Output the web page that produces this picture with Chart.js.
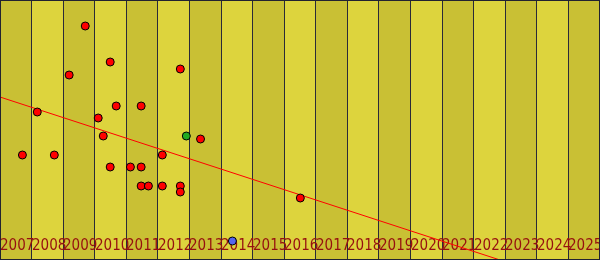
<!DOCTYPE html>
<html>
<head>
<meta charset="utf-8">
<script src="https://cdn.jsdelivr.net/npm/chart.js@4"></script>
<style>
  html, body { margin: 0; padding: 0; background: #ffffff; }
  #wrap { width: 600px; height: 260px; }
</style>
</head>
<body>
<div id="wrap"><canvas id="c" width="600" height="260"></canvas></div>
<script>
// ---- data ----
const yearTicks = ["2007","2008","2009","2010","2011","2012","2013","2014","2015","2016","2017","2018","2019","2020","2021","2022","2023","2024","2025"];

const redYears  = [2009.70, 2010.49, 2009.19, 2012.71, 2008.18, 2010.68, 2011.47, 2010.11, 2010.27, 2013.35, 2007.71, 2008.72, 2012.14, 2010.49, 2011.13, 2011.47, 2011.47, 2011.70, 2012.14, 2012.71, 2012.71, 2016.51];
const redValues = [23.4,    19.8,    18.5,    19.1,    14.8,    15.4,    15.4,    14.2,    12.4,    12.1,    10.5,    10.5,    10.5,    9.3,     9.3,     9.3,     7.4,     7.4,     7.4,     7.4,     6.8,     6.2];

const greenYears  = [2012.90];
const greenValues = [12.4];

const blueYears  = [2014.36];
const blueValues = [1.9];

const trendYears  = [2007, 2026];
const trendValues = [16.3, -3.26];

// ---- build datasets ----
const toPts = (xs, ys) => xs.map((x, i) => ({ x: x, y: ys[i] }));

const bandPlugin = {
  id: 'bands',
  beforeDraw(chart) {
    const { ctx, chartArea, scales } = chart;
    const xs = scales.x;
    ctx.save();
    for (let i = 0; i < yearTicks.length; i++) {
      const y0 = Number(yearTicks[i]);
      const a = xs.getPixelForValue(y0);
      const b = xs.getPixelForValue(y0 + 1);
      ctx.fillStyle = (i % 2 === 0) ? '#c9c034' : '#ddd43d';
      ctx.fillRect(a, chartArea.top, b - a, chartArea.bottom - chartArea.top);
    }
    ctx.restore();
  },
  beforeDatasetsDraw(chart) {
    const { ctx, chartArea, scales } = chart;
    const xs = scales.x;
    ctx.save();
    ctx.font = '15px "DejaVu Sans Condensed", "DejaVu Sans", sans-serif';
    try { ctx.fontStretch = 'condensed'; } catch (e) {}
    ctx.fillStyle = '#961010';
    ctx.textAlign = 'left';
    ctx.textBaseline = 'alphabetic';
    for (let i = 0; i < yearTicks.length; i++) {
      const px = xs.getPixelForValue(Number(yearTicks[i]));
      ctx.fillText(yearTicks[i], Math.round(px), chartArea.bottom - 10);
    }
    ctx.restore();
  },
  afterDraw(chart) {
    const { ctx } = chart;
    ctx.save();
    ctx.strokeStyle = '#222230';
    ctx.lineWidth = 1;
    ctx.strokeRect(0.5, 0.5, chart.width - 1, chart.height - 1);
    ctx.restore();
  }
};

new Chart(document.getElementById('c'), {
  type: 'scatter',
  data: {
    datasets: [
      {
        type: 'line',
        data: toPts(trendYears, trendValues),
        borderColor: '#ff0000',
        borderWidth: 1,
        pointRadius: 0,
        fill: false,
        order: 3
      },
      {
        data: toPts(redYears, redValues),
        backgroundColor: '#ff0000',
        borderColor: '#000000',
        borderWidth: 1,
        pointRadius: 4,
        order: 2
      },
      {
        data: toPts(greenYears, greenValues),
        backgroundColor: '#22aa22',
        borderColor: '#000000',
        borderWidth: 1,
        pointRadius: 4,
        order: 1
      },
      {
        data: toPts(blueYears, blueValues),
        backgroundColor: '#5566ee',
        borderColor: '#000000',
        borderWidth: 1,
        pointRadius: 4,
        order: 1
      }
    ]
  },
  options: {
    responsive: false,
    animation: false,
    devicePixelRatio: 1,
    layout: { padding: 0, autoPadding: false },
    plugins: { legend: { display: false }, tooltip: { enabled: false } },
    scales: {
      x: {
        type: 'linear',
        min: 2007,
        max: 2026,
        display: true,
        ticks: { display: false, stepSize: 1 },
        grid: { color: '#2a2a38', lineWidth: 1, drawTicks: false },
        border: { display: false },
        afterFit(s) { s.height = 0; }
      },
      y: {
        type: 'linear',
        min: 0,
        max: 26,
        display: false
      }
    }
  },
  plugins: [bandPlugin]
});
</script>
</body>
</html>
